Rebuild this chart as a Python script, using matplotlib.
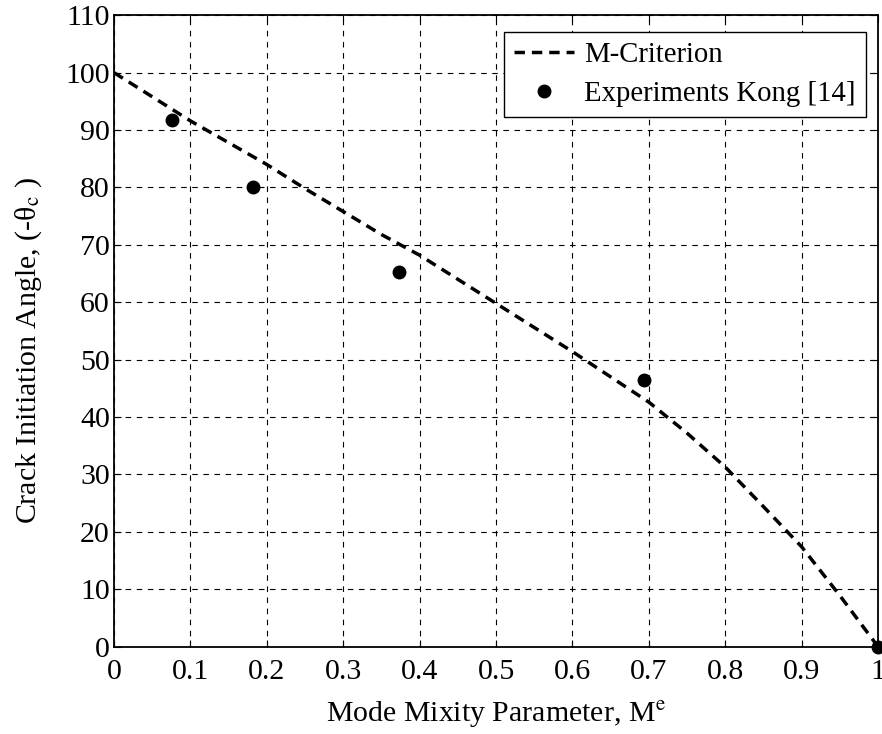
import matplotlib
matplotlib.use('Agg')
import matplotlib.pyplot as plt

plt.rcParams['font.family'] = ['Liberation Serif', 'DejaVu Serif']
plt.rcParams['mathtext.fontset'] = 'stix'

# M-criterion prediction
m_crit = [0.0, 0.05, 0.1, 0.15, 0.2, 0.25, 0.3, 0.35, 0.4, 0.45, 0.5,
          0.55, 0.6, 0.65, 0.7, 0.75, 0.8, 0.85, 0.9, 0.95, 1.0]
theta_crit = [100.0, 95.8, 91.6, 87.8, 84.0, 79.8, 75.8, 71.8, 68.2, 64.0, 59.8,
              55.6, 51.4, 47.0, 42.6, 37.2, 31.3, 24.4, 17.4, 8.9, 0.0]

# experiments (Kong)
m_exp = [0.076, 0.182, 0.373, 0.694, 1.0]
theta_exp = [91.8, 80.0, 65.3, 46.5, 0.0]

fig = plt.figure(figsize=(8.82, 7.34), dpi=100)
ax = fig.add_axes([0.1293, 0.119, 0.8662, 0.8602])

ax.plot(m_crit, theta_crit, '--', color='black', linewidth=2.5,
        dashes=(3, 2), label='M-Criterion')
ax.plot(m_exp, theta_exp, 'o', color='black', markersize=9,
        label='Experiments Kong [14]', clip_on=False, zorder=5)

ax.set_xlim(0, 1)
ax.set_ylim(0, 110)
ax.set_xticks([0, 0.1, 0.2, 0.3, 0.4, 0.5, 0.6, 0.7, 0.8, 0.9, 1])
ax.set_xticklabels(['0', '0.1', '0.2', '0.3', '0.4', '0.5', '0.6', '0.7', '0.8', '0.9', '1'])
ax.set_yticks(range(0, 111, 10))

ax.tick_params(direction='in', top=True, right=True, labelsize=21.5,
               length=5, width=0.8)
ax.tick_params(axis='x', pad=9)
ax.tick_params(axis='y', pad=3)
for s in ax.spines.values():
    s.set_linewidth(1.3)

ax.grid(True, color='black', linestyle=(0, (5, 5)), linewidth=0.8)

ax.set_xlabel('Mode Mixity Parameter, M$^{\\mathrm{e}}$', fontsize=21.5, labelpad=10)
ax.set_ylabel('Crack Initiation Angle, (-θ$_{\\mathrm{c}}$ )', fontsize=21.5)
ax.yaxis.set_label_coords(-0.092, 0.47)

leg = ax.legend(loc='upper right', bbox_to_anchor=(0.984, 0.9735), borderaxespad=0,
                fontsize=20.7, fancybox=False, framealpha=1, edgecolor='black',
                handlelength=2.1, handletextpad=0.35, borderpad=0.35,
                labelspacing=0.45)
leg.get_frame().set_linewidth(1.0)

fig.savefig('out.png', dpi=100)
